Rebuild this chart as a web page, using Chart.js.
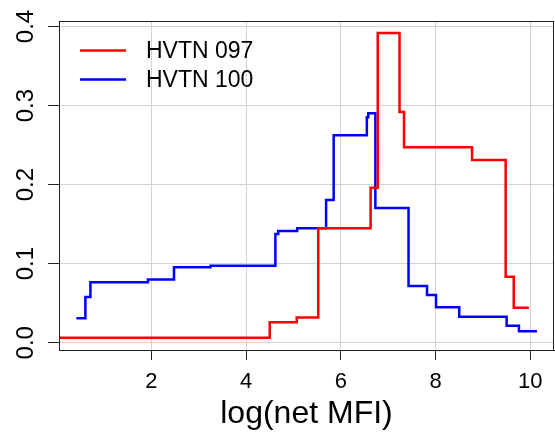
<!DOCTYPE html>
<html>
<head>
<meta charset="utf-8">
<script src="https://cdn.jsdelivr.net/npm/chart.js@4.4.1/dist/chart.umd.min.js"></script>
<style>
  html, body { margin: 0; padding: 0; background: #fff; }
</style>
</head>
<body>
<canvas id="mfiChart" width="555" height="440"></canvas>
<script>
// step curves: y is the value to the right of each x
var seriesNames = ["HVTN 097", "HVTN 100"];
var seriesColors = ["#FF0000", "#0000FF"];
var x097 = [0.0, 4.50, 5.07, 5.525, 6.63, 6.78, 7.24, 7.335, 8.77, 9.48, 9.65, 9.97];
var y097 = [0.0063, 0.026, 0.032, 0.1448, 0.196, 0.3917, 0.292, 0.2473, 0.2313, 0.0835, 0.0443, 0.0443];
var x100 = [0.42, 0.61, 0.716, 1.93, 2.48, 3.25, 4.62, 4.68, 5.08, 5.69, 5.85, 6.55, 6.58, 6.73, 7.43, 7.82, 8.01, 8.50, 9.50, 9.76, 10.14];
var y100 = [0.0309, 0.0578, 0.0764, 0.080, 0.0954, 0.0975, 0.1376, 0.1414, 0.1448, 0.1806, 0.2625, 0.2853, 0.2904, 0.1705, 0.0718, 0.0604, 0.0448, 0.0329, 0.0215, 0.0144, 0.0144];
var xTicks = [2, 4, 6, 8, 10];
var yTicks = [0.0, 0.1, 0.2, 0.3, 0.4];
var yTickLabels = ["0.0", "0.1", "0.2", "0.3", "0.4"];
var xTitle = "log(net MFI)";

var FONT = "'Liberation Sans', Arial, Helvetica, sans-serif";

function toPoints(xs, ys) {
  return xs.map(function (x, i) { return { x: x, y: ys[i] }; });
}

// box, rotated y labels and legend, like base R graphics
var rStyle = {
  id: 'rStyle',
  afterDraw: function (chart) {
    var ctx = chart.ctx;
    var a = chart.chartArea;
    var ys = chart.scales.y;
    ctx.save();
    ctx.strokeStyle = '#222';
    ctx.lineWidth = 1;
    ctx.strokeRect(Math.round(a.left) + 0.5, Math.round(a.top) + 0.5,
      Math.round(a.right - a.left) - 1, Math.round(a.bottom - a.top));

    ctx.fillStyle = '#000';
    ctx.font = '24px ' + FONT;
    ctx.textAlign = 'center';
    ctx.textBaseline = 'middle';
    yTicks.forEach(function (v, i) {
      ctx.save();
      ctx.translate(25, ys.getPixelForValue(v));
      ctx.rotate(-Math.PI / 2);
      ctx.fillText(yTickLabels[i], 0, 1);
      ctx.restore();
    });

    ctx.font = '23px ' + FONT;
    ctx.textAlign = 'left';
    ctx.lineWidth = 2.5;
    seriesNames.forEach(function (name, i) {
      var y = 50.5 + i * 29;
      ctx.strokeStyle = seriesColors[i];
      ctx.beginPath();
      ctx.moveTo(80, y);
      ctx.lineTo(126, y);
      ctx.stroke();
      ctx.fillText(name, 146, y + 1);
    });
    ctx.restore();
  }
};

var ctx = document.getElementById("mfiChart");
var mfiChart = new Chart(ctx, {
  type: 'line',
  data: {
    datasets: [{
      label: seriesNames[0],
      data: toPoints(x097, y097),
      borderColor: seriesColors[0],
      borderWidth: 2.5,
      stepped: 'before',
      pointRadius: 0,
      fill: false
    }, {
      label: seriesNames[1],
      data: toPoints(x100, y100),
      borderColor: seriesColors[1],
      borderWidth: 2.5,
      stepped: 'before',
      pointRadius: 0,
      fill: false
    }]
  },
  options: {
    responsive: false,
    animation: false,
    layout: { padding: { left: 0, top: 21, right: 1, bottom: 0 } },
    plugins: { legend: { display: false }, tooltip: { enabled: false } },
    scales: {
      x: {
        type: 'linear',
        min: 0.053,
        max: 10.5,
        afterBuildTicks: function (scale) {
          scale.ticks = xTicks.map(function (v) { return { value: v }; });
        },
        afterFit: function (scale) { scale.height = 90; },
        grid: { color: '#d3d3d3', tickColor: '#222', tickLength: 10 },
        border: { color: '#222' },
        ticks: {
          color: '#000',
          font: { family: FONT, size: 22 },
          padding: 9,
          maxRotation: 0
        },
        title: {
          display: true,
          text: xTitle,
          color: '#000',
          font: { family: FONT, size: 32 },
          padding: { top: 0, bottom: 7 }
        }
      },
      y: {
        type: 'linear',
        min: -0.0092,
        max: 0.407,
        afterBuildTicks: function (scale) {
          scale.ticks = yTicks.map(function (v) { return { value: v }; });
        },
        afterFit: function (scale) { scale.width = 59; },
        grid: { color: '#d3d3d3', tickColor: '#222', tickLength: 11 },
        border: { color: '#222' },
        ticks: { display: false }
      }
    }
  },
  plugins: [rStyle]
});
</script>
</body>
</html>
